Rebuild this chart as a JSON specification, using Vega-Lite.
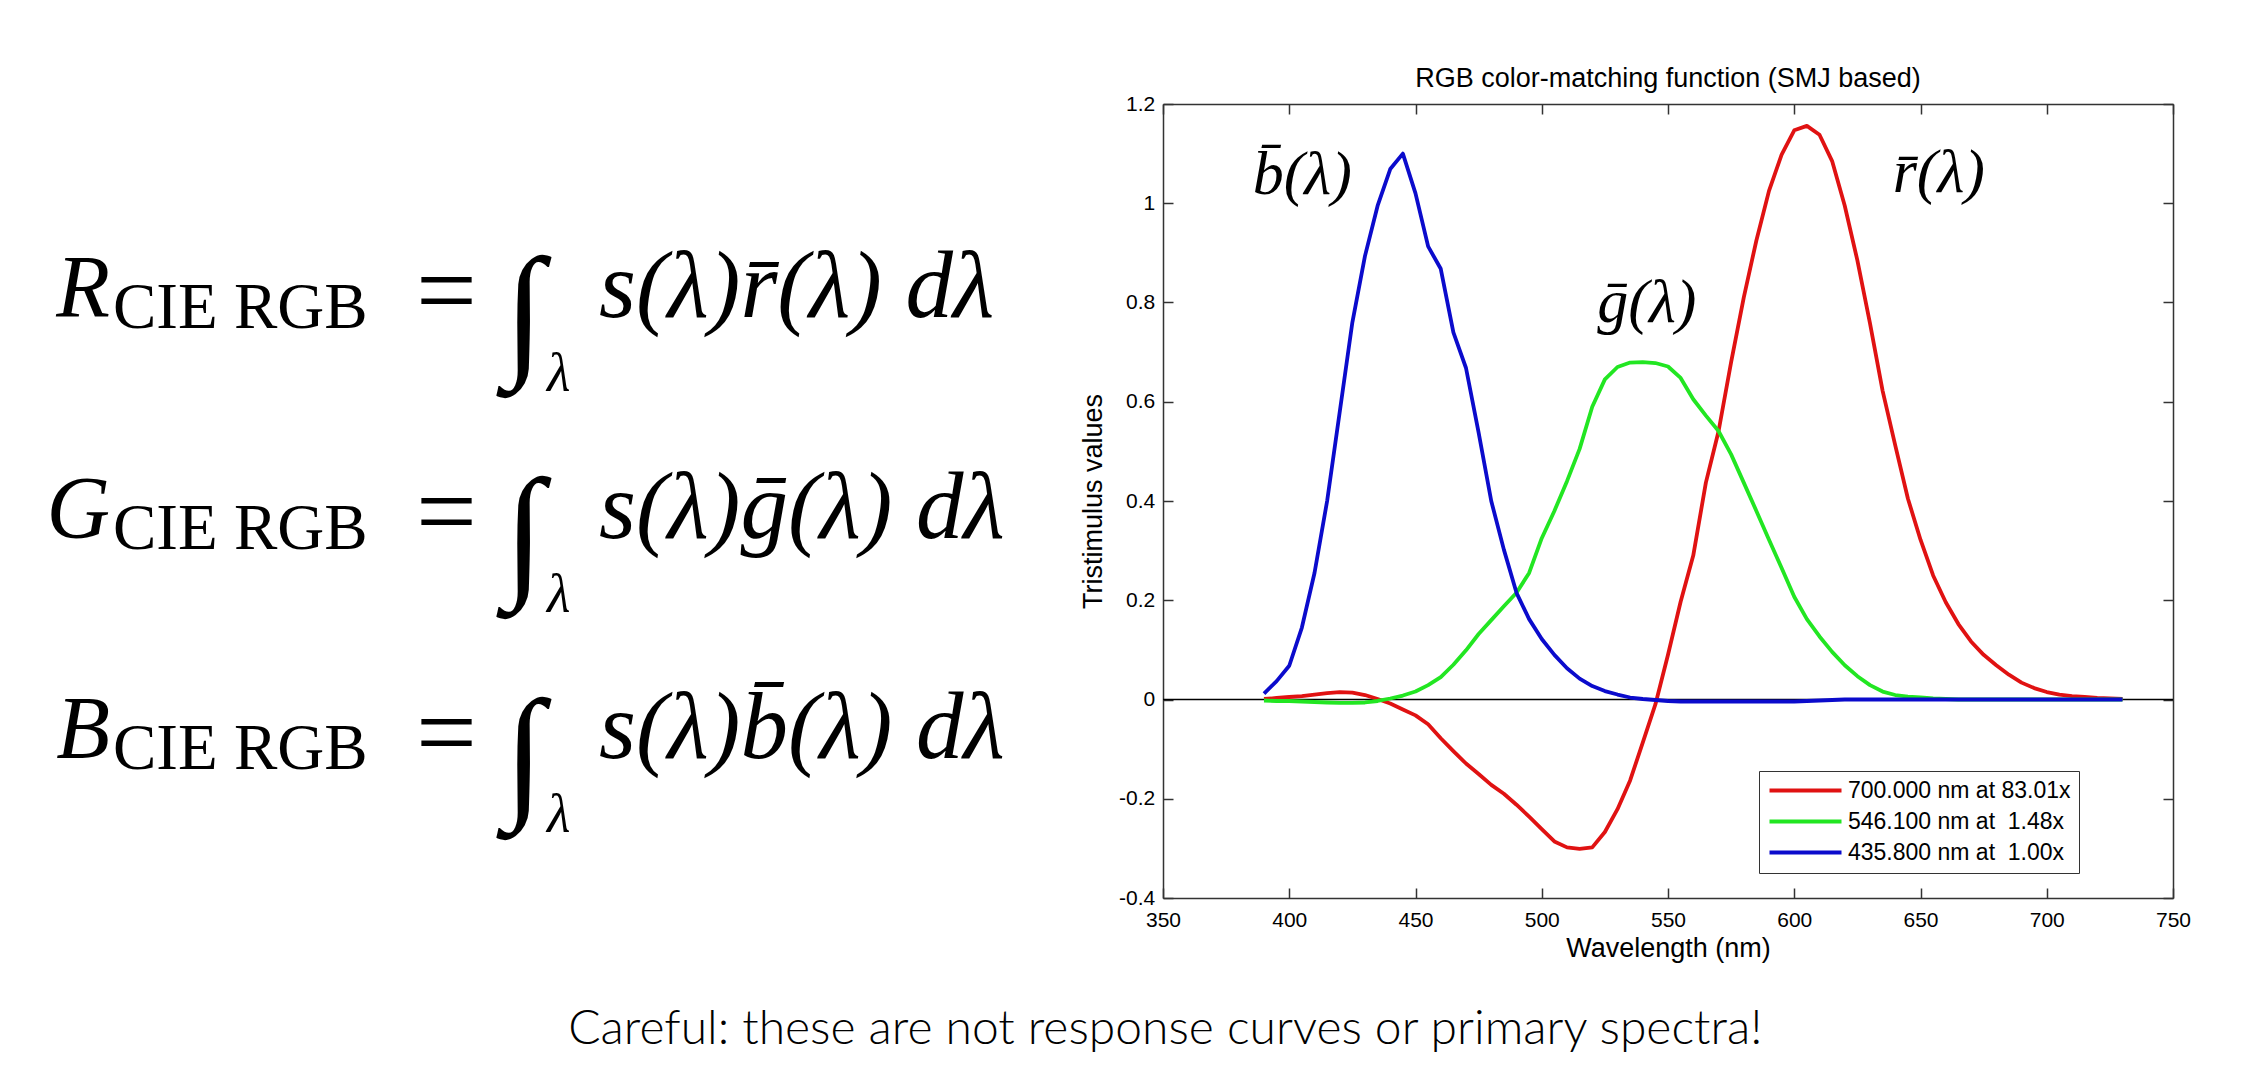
{
  "$schema": "https://vega.github.io/schema/vega-lite/v6.json",
  "background": "white",
  "padding": {"left": 0, "top": 64, "right": 0, "bottom": 0},
  "title": {
    "text": "Careful: these are not response curves or primary spectra!",
    "orient": "bottom",
    "anchor": "middle",
    "frame": "bounds",
    "font": "Lato",
    "fontWeight": 300,
    "fontSize": 48,
    "color": "black",
    "baseline": "alphabetic",
    "offset": 83,
    "dx": 70
  },
  "datasets": {
    "equations": [
      {"eq": "R", "sym": "R", "rhs": "s(λ)r̄(λ) dλ"},
      {"eq": "G", "sym": "G", "rhs": "s(λ)ḡ(λ) dλ"},
      {"eq": "B", "sym": "B", "rhs": "s(λ)b̄(λ) dλ"}
    ],
    "primaries": [
      {"key": "r", "primary": "700.000 nm at 83.01x"},
      {"key": "g", "primary": "546.100 nm at \u00a01.48x"},
      {"key": "b", "primary": "435.800 nm at \u00a01.00x"}
    ],
    "curveLabels": [
      {"wl": 385.5, "value": 1.0185, "name": "b̄(λ)"},
      {"wl": 522, "value": 0.76, "name": "ḡ(λ)"},
      {"wl": 639, "value": 1.022, "name": "r̄(λ)"}
    ],
    "cmf": [
      {"wl": 390, "r": 0.001, "g": -0.002, "b": 0.012},
      {"wl": 395, "r": 0.003, "g": -0.003, "b": 0.037},
      {"wl": 400, "r": 0.005, "g": -0.003, "b": 0.068},
      {"wl": 405, "r": 0.007, "g": -0.004, "b": 0.145},
      {"wl": 410, "r": 0.010, "g": -0.005, "b": 0.255},
      {"wl": 415, "r": 0.013, "g": -0.006, "b": 0.40},
      {"wl": 420, "r": 0.015, "g": -0.007, "b": 0.58},
      {"wl": 425, "r": 0.014, "g": -0.007, "b": 0.76},
      {"wl": 430, "r": 0.009, "g": -0.006, "b": 0.894},
      {"wl": 435, "r": 0.001, "g": -0.003, "b": 0.995},
      {"wl": 440, "r": -0.008, "g": 0.002, "b": 1.069},
      {"wl": 445, "r": -0.020, "g": 0.008, "b": 1.10},
      {"wl": 450, "r": -0.032, "g": 0.016, "b": 1.02},
      {"wl": 455, "r": -0.050, "g": 0.029, "b": 0.913},
      {"wl": 460, "r": -0.078, "g": 0.045, "b": 0.868},
      {"wl": 465, "r": -0.104, "g": 0.070, "b": 0.74},
      {"wl": 470, "r": -0.129, "g": 0.099, "b": 0.668},
      {"wl": 475, "r": -0.150, "g": 0.132, "b": 0.538},
      {"wl": 480, "r": -0.172, "g": 0.160, "b": 0.40},
      {"wl": 485, "r": -0.190, "g": 0.188, "b": 0.302},
      {"wl": 490, "r": -0.212, "g": 0.215, "b": 0.215},
      {"wl": 495, "r": -0.236, "g": 0.255, "b": 0.162},
      {"wl": 500, "r": -0.261, "g": 0.325, "b": 0.122},
      {"wl": 505, "r": -0.286, "g": 0.380, "b": 0.090},
      {"wl": 510, "r": -0.298, "g": 0.440, "b": 0.063},
      {"wl": 515, "r": -0.301, "g": 0.505, "b": 0.042},
      {"wl": 520, "r": -0.298, "g": 0.590, "b": 0.027},
      {"wl": 525, "r": -0.267, "g": 0.645, "b": 0.017},
      {"wl": 530, "r": -0.221, "g": 0.670, "b": 0.010},
      {"wl": 535, "r": -0.163, "g": 0.679, "b": 0.004},
      {"wl": 540, "r": -0.087, "g": 0.680, "b": 0.001},
      {"wl": 545, "r": -0.010, "g": 0.678, "b": -0.001},
      {"wl": 550, "r": 0.090, "g": 0.671, "b": -0.003},
      {"wl": 555, "r": 0.197, "g": 0.648, "b": -0.004},
      {"wl": 560, "r": 0.290, "g": 0.605, "b": -0.004},
      {"wl": 565, "r": 0.437, "g": 0.572, "b": -0.004},
      {"wl": 570, "r": 0.540, "g": 0.541, "b": -0.004},
      {"wl": 575, "r": 0.680, "g": 0.494, "b": -0.004},
      {"wl": 580, "r": 0.810, "g": 0.437, "b": -0.004},
      {"wl": 585, "r": 0.925, "g": 0.380, "b": -0.004},
      {"wl": 590, "r": 1.025, "g": 0.322, "b": -0.004},
      {"wl": 595, "r": 1.098, "g": 0.265, "b": -0.004},
      {"wl": 600, "r": 1.147, "g": 0.207, "b": -0.004},
      {"wl": 605, "r": 1.156, "g": 0.162, "b": -0.003},
      {"wl": 610, "r": 1.138, "g": 0.127, "b": -0.002},
      {"wl": 615, "r": 1.085, "g": 0.096, "b": -0.001},
      {"wl": 620, "r": 0.995, "g": 0.069, "b": 0},
      {"wl": 625, "r": 0.885, "g": 0.047, "b": 0},
      {"wl": 630, "r": 0.758, "g": 0.029, "b": 0},
      {"wl": 635, "r": 0.622, "g": 0.016, "b": 0},
      {"wl": 640, "r": 0.512, "g": 0.009, "b": 0},
      {"wl": 645, "r": 0.405, "g": 0.006, "b": 0},
      {"wl": 650, "r": 0.322, "g": 0.004, "b": 0},
      {"wl": 655, "r": 0.250, "g": 0.002, "b": 0},
      {"wl": 660, "r": 0.196, "g": 0.001, "b": 0},
      {"wl": 665, "r": 0.152, "g": 0, "b": 0},
      {"wl": 670, "r": 0.117, "g": 0, "b": 0},
      {"wl": 675, "r": 0.090, "g": 0, "b": 0},
      {"wl": 680, "r": 0.069, "g": 0, "b": 0},
      {"wl": 685, "r": 0.050, "g": 0, "b": 0},
      {"wl": 690, "r": 0.034, "g": 0, "b": 0},
      {"wl": 695, "r": 0.023, "g": 0, "b": 0},
      {"wl": 700, "r": 0.015, "g": 0, "b": 0},
      {"wl": 705, "r": 0.010, "g": 0, "b": 0},
      {"wl": 710, "r": 0.007, "g": 0, "b": 0},
      {"wl": 715, "r": 0.005, "g": 0, "b": 0},
      {"wl": 720, "r": 0.003, "g": 0, "b": 0},
      {"wl": 725, "r": 0.002, "g": 0, "b": 0},
      {"wl": 730, "r": 0.001, "g": 0, "b": 0}
    ]
  },
  "bounds": "flush",
  "spacing": 63,
  "hconcat": [
    {
      "width": 1100,
      "height": 794,
      "view": {"stroke": null},
      "data": {"name": "equations"},
      "encoding": {
        "y": {"field": "eq", "type": "nominal", "axis": null,
              "scale": {"type": "point", "domain": ["R", "G", "B"], "padding": 0.8}}
      },
      "layer": [
        {
          "mark": {"type": "text", "font": "Liberation Serif", "fontStyle": "italic", "fontSize": 88,
                   "align": "right", "baseline": "alphabetic", "dy": 35.5, "color": "black"},
          "encoding": {
            "x": {"datum": 110, "type": "quantitative", "axis": null,
                  "scale": {"domain": [0, 1100], "nice": false, "zero": false}},
            "text": {"field": "sym"}
          }
        },
        {
          "mark": {"type": "text", "font": "Liberation Serif", "fontSize": 65, "text": "CIE RGB",
                   "align": "left", "baseline": "alphabetic", "dy": 47.5, "color": "black"},
          "encoding": {"x": {"datum": 113, "type": "quantitative"}}
        },
        {
          "mark": {"type": "text", "font": "Liberation Serif", "fontSize": 108, "text": "=",
                   "align": "left", "baseline": "alphabetic", "dy": 46, "color": "black"},
          "encoding": {"x": {"datum": 416, "type": "quantitative"}}
        },
        {
          "mark": {"type": "text", "font": "Liberation Serif", "fontStyle": "italic", "fontSize": 146, "text": "∫",
                   "align": "center", "baseline": "alphabetic", "dy": 79, "color": "black"},
          "encoding": {"x": {"datum": 524, "type": "quantitative"}}
        },
        {
          "mark": {"type": "text", "font": "Liberation Serif", "fontStyle": "italic", "fontSize": 54, "text": "λ",
                   "align": "left", "baseline": "alphabetic", "dy": 110.5, "color": "black"},
          "encoding": {"x": {"datum": 547, "type": "quantitative"}}
        },
        {
          "mark": {"type": "text", "font": "Liberation Serif", "fontStyle": "italic", "fontSize": 95,
                   "align": "left", "baseline": "alphabetic", "dy": 36.5, "color": "black"},
          "encoding": {
            "x": {"datum": 599, "type": "quantitative"},
            "text": {"field": "rhs"}
          }
        }
      ]
    },
    {
      "width": 1010,
      "height": 794,
      "view": {"stroke": null},
      "title": {
        "text": "RGB color-matching function (SMJ based)",
        "font": "Liberation Sans",
        "fontSize": 27,
        "fontWeight": "normal",
        "color": "black",
        "anchor": "middle",
        "baseline": "alphabetic",
        "offset": -20.7
      },
      "layer": [
        {
          "data": {"values": [{"level": 0}]},
          "mark": {"type": "rule", "color": "black", "strokeWidth": 1.3},
          "encoding": {
            "y": {"field": "level", "type": "quantitative", "axis": null}
          }
        },
        {
          "data": {"name": "cmf"},
          "transform": [
            {"fold": ["r", "g", "b"], "as": ["key", "value"]},
            {"lookup": "key", "from": {"data": {"name": "primaries"}, "key": "key", "fields": ["primary"]}}
          ],
          "mark": {"type": "line", "strokeWidth": 3.8, "strokeJoin": "round", "strokeCap": "butt"},
          "encoding": {
            "x": {
              "field": "wl", "type": "quantitative",
              "scale": {"domain": [350, 750], "nice": false, "zero": false},
              "axis": {"orient": "bottom", "title": "Wavelength (nm)", "format": "d",
                       "values": [350, 400, 450, 500, 550, 600, 650, 700, 750],
                       "labelPadding": 21, "titlePadding": 5}
            },
            "y": {
              "field": "value", "type": "quantitative",
              "scale": {"domain": [-0.4, 1.2], "nice": false, "zero": false},
              "axis": {"orient": "left", "title": "Tristimulus values",
                       "values": [-0.4, -0.2, 0, 0.2, 0.4, 0.6, 0.8, 1, 1.2],
                       "labelExpr": "'' + round(datum.value * 10) / 10",
                       "labelPadding": 18.3, "titlePadding": 11}
            },
            "color": {
              "field": "primary", "type": "nominal",
              "scale": {
                "domain": ["700.000 nm at 83.01x", "546.100 nm at \u00a01.48x", "435.800 nm at \u00a01.00x"],
                "range": ["#e01212", "#22e622", "#0b0bcc"]
              },
              "legend": {
                "orient": "none", "legendX": 1759, "legendY": 667,
                "title": null,
                "symbolType": "M-1,0H7", "symbolSize": 324, "symbolStrokeWidth": 4,
                "labelFont": "Liberation Sans", "labelFontSize": 23, "labelColor": "black",
                "labelOffset": 58, "labelLimit": 400,
                "strokeColor": "#333", "fillColor": "white",
                "padding": 8, "rowPadding": 7
              }
            }
          }
        },
        {
          "data": {"name": "curveLabels"},
          "mark": {"type": "text", "font": "Liberation Serif", "fontStyle": "italic", "fontSize": 62,
                   "align": "left", "baseline": "alphabetic", "color": "black"},
          "encoding": {
            "x": {"field": "wl", "type": "quantitative",
                  "axis": {"orient": "top", "labels": false, "title": null,
                           "values": [350, 400, 450, 500, 550, 600, 650, 700, 750]}},
            "y": {"field": "value", "type": "quantitative",
                  "axis": {"orient": "right", "labels": false, "title": null,
                           "values": [-0.4, -0.2, 0, 0.2, 0.4, 0.6, 0.8, 1, 1.2]}},
            "text": {"field": "name"}
          }
        }
      ]
    }
  ],
  "config": {
    "axis": {
      "grid": false,
      "domainColor": "#333",
      "domainWidth": 1.5,
      "tickColor": "#333",
      "tickWidth": 1.5,
      "tickSize": -10,
      "labelFont": "Liberation Sans",
      "labelFontSize": 21,
      "labelColor": "black",
      "labelFlush": false,
      "labelOverlap": false,
      "titleFont": "Liberation Sans",
      "titleFontSize": 27,
      "titleFontWeight": "normal",
      "titleColor": "black"
    }
  }
}
